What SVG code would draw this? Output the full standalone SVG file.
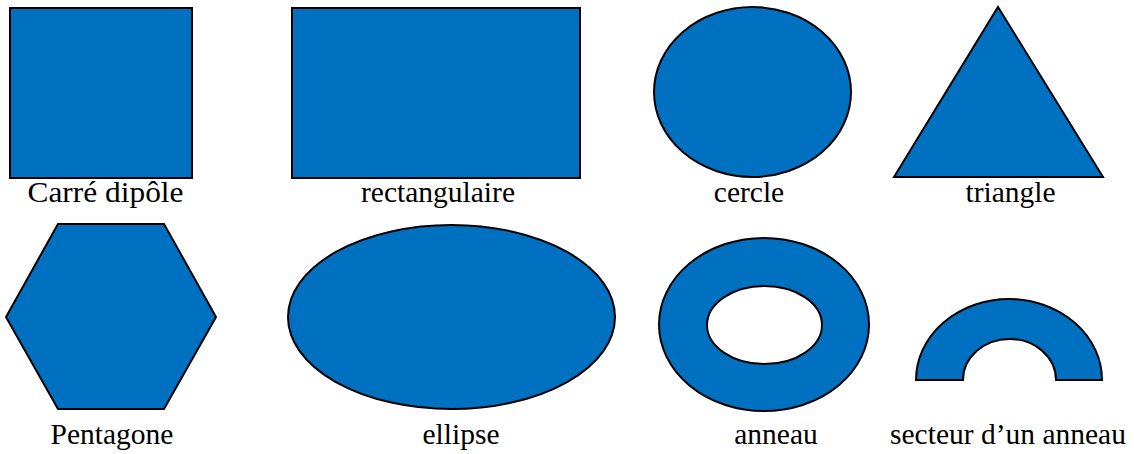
<svg xmlns="http://www.w3.org/2000/svg" width="1134" height="454" viewBox="0 0 1134 454">
  <style>
    .shape { fill: #0070C0; stroke: #000; stroke-width: 2; stroke-linejoin: miter; }
    .label { font-family: 'Liberation Serif', 'DejaVu Serif', serif; font-size: 29.5px; fill: #000; text-anchor: middle; }
  </style>
  <rect width="1134" height="454" fill="#fff"/>
  <g id="carre">
    <rect class="shape" x="10" y="8" width="182" height="170"/>
    <text class="label" x="105.5" y="202" textLength="156" lengthAdjust="spacingAndGlyphs">Carré dipôle</text>
  </g>
  <g id="rectangulaire">
    <rect class="shape" x="292" y="8" width="288" height="170"/>
    <text class="label" x="438" y="202">rectangulaire</text>
  </g>
  <g id="cercle">
    <ellipse class="shape" cx="752.5" cy="92" rx="98.5" ry="85"/>
    <text class="label" x="749" y="202">cercle</text>
  </g>
  <g id="triangle">
    <polygon class="shape" points="998,7 1103,177 894,177"/>
    <text class="label" x="1010.5" y="202">triangle</text>
  </g>
  <g id="pentagone">
    <polygon class="shape" points="58,224 164,224 216,317 164,409 58,409 6,317"/>
    <text class="label" x="112" y="444">Pentagone</text>
  </g>
  <g id="ellipse">
    <ellipse class="shape" cx="451.5" cy="317" rx="163.5" ry="92"/>
    <text class="label" x="461" y="444">ellipse</text>
  </g>
  <g id="anneau">
    <path class="shape" fill-rule="evenodd" d="M659,324.5 A105,86.5 0 1 0 869,324.5 A105,86.5 0 1 0 659,324.5 Z M707,325 A57.5,39 0 1 0 822,325 A57.5,39 0 1 0 707,325 Z"/>
    <text class="label" x="776" y="444">anneau</text>
  </g>
  <g id="secteur">
    <path class="shape" d="M916,380 A93,81 0 0 1 1102,380 L1056,380 A46.5,41 0 0 0 963,380 Z"/>
    <text class="label" x="1008" y="444">secteur d’un anneau</text>
  </g>
  <g id="connectors"/>
</svg>
